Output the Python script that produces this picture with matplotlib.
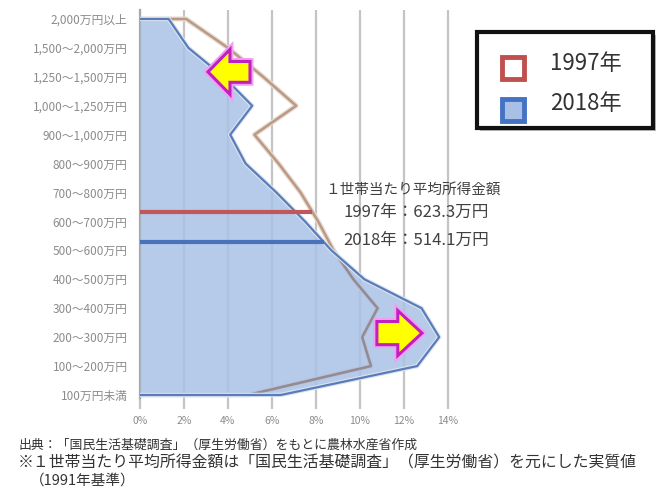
import numpy as np
import matplotlib
matplotlib.use("Agg")
import matplotlib.pyplot as plt
from matplotlib.patches import FancyArrow, Rectangle, Polygon
import matplotlib.patheffects as pe

plt.rcParams['font.family'] = ['Noto Sans CJK JP', 'DejaVu Sans']

# categories, bottom -> top
categories = ["100万円未満", "100～200万円", "200～300万円", "300～400万円",
              "400～500万円", "500～600万円", "600～700万円", "700～800万円",
              "800～900万円", "900～1,000万円", "1,000～1,250万円",
              "1,250～1,500万円", "1,500～2,000万円", "2,000万円以上"]
share_1997 = [4.9, 10.5, 10.1, 10.8, 9.7, 8.8, 8.1, 7.3, 6.3, 5.2, 7.1, 5.6, 4.0, 2.1]
share_2018 = [6.4, 12.6, 13.6, 12.8, 10.2, 8.7, 7.5, 6.2, 4.8, 4.1, 5.1, 3.8, 2.2, 1.3]
xticks = [0, 2, 4, 6, 8, 10, 12, 14]
xtick_labels = ["0%", "2%", "4%", "6%", "8%", "10%", "12%", "14%"]
# positions of the average-income lines on the category axis
mean_pos = {"1997": 6.33, "2018": 5.29}
mean_text = ["１世帯当たり平均所得金額", "1997年：623.3万円", "2018年：514.1万円"]
footnotes = ["出典：「国民生活基礎調査」（厚生労働省）をもとに農林水産省作成",
             "※１世帯当たり平均所得金額は「国民生活基礎調査」（厚生労働省）を元にした実質値",
             "（1991年基準）"]

W, H = 664, 498
fig = plt.figure(figsize=(W / 100, H / 100), dpi=100)

def fx(px):
    return px / W

def fy(py):
    return 1 - py / H

ax = fig.add_axes([fx(140), fy(398), fx(455) - fx(140), fy(10) - fy(398)])
y = np.arange(len(categories))
v97 = np.array(share_1997)
v18 = np.array(share_2018)

ax.set_xlim(0, 14.32)
ax.set_ylim(-0.104, 13.31)

# grid
ax.set_xticks(xticks)
ax.set_xticklabels(xtick_labels, fontsize=7.5, color='#8c8c8c')
ax.grid(axis='x', color='#c4c4c4', lw=1.6, zorder=1)
ax.tick_params(axis='x', length=8, width=1.6, color='#c4c4c4', pad=5)
ax.set_yticks(y)
ax.set_yticklabels(categories, fontsize=8.5, color='#8c8c8c')
ax.tick_params(axis='y', length=0, pad=9)
for s in ['top', 'right', 'bottom']:
    ax.spines[s].set_visible(False)
ax.spines['left'].set_color('#a8a8a8')
ax.spines['left'].set_linewidth(1.6)

px97 = np.r_[0, v97, 0]
py97 = np.r_[0, y, y[-1]]
px18 = np.r_[0, v18, 0]
py18 = np.r_[0, y, y[-1]]

# 1997 outline (outside the 2018 area)
ax.plot(px97, py97, color='#b99a86', lw=1.8, zorder=2,
        path_effects=[pe.Stroke(linewidth=3.6, foreground='#eadbd0'), pe.Normal()])

# 2018 area
ax.fill_betweenx(y, 0, v18, color='#a9c1e6', alpha=0.85, lw=0, zorder=3)

# 1997 outline where it lies inside the 2018 area
clip = Polygon(np.column_stack([px18, py18]), closed=True, transform=ax.transData)
inner, = ax.plot(px97, py97, color='#958a90', lw=1.8, zorder=3.5)
inner.set_clip_path(clip)

ax.plot(px18, py18, color='#5a7cb8', lw=1.6, zorder=4,
        path_effects=[pe.Stroke(linewidth=3.2, foreground='#dbe4f2'), pe.Normal()])

# average lines
x97 = np.interp(mean_pos["1997"], y, v97)
x18 = np.interp(mean_pos["2018"], y, v18)
ax.plot([0, x97], [mean_pos["1997"]] * 2, color='#c0575a', lw=3, zorder=5, solid_capstyle='butt')
ax.plot([0, x18], [mean_pos["2018"]] * 2, color='#4a72b8', lw=3, zorder=5, solid_capstyle='butt')

# arrows
arrow_pe = [pe.Stroke(linewidth=5, foreground='#f0a0f0'), pe.Normal()]
a1 = FancyArrow(5.0, 11.17, -1.91, 0, width=0.72, head_width=1.55, head_length=1.0,
                length_includes_head=True, fc='#ffff00', ec='#c020c0', lw=2.2, zorder=6)
a1.set_path_effects(arrow_pe)
ax.add_patch(a1)
a2 = FancyArrow(10.77, 2.14, 2.05, 0, width=0.8, head_width=1.55, head_length=1.1,
                length_includes_head=True, fc='#ffff00', ec='#c020c0', lw=2.2, zorder=6)
a2.set_path_effects(arrow_pe)
ax.add_patch(a2)

# annotation text
fig.text(fx(325), fy(190), mean_text[0], fontsize=10.5, color='#404040', ha='left', va='center')
fig.text(fx(416), fy(212), mean_text[1], fontsize=12, color='#404040', ha='center', va='center')
fig.text(fx(416), fy(240), mean_text[2], fontsize=12, color='#404040', ha='center', va='center')

# legend
fig.patches.append(Rectangle((fx(480), fy(131)), fx(176), fy(0) - fy(96), transform=fig.transFigure,
                             fc='#bbbbbb', ec='none', zorder=1))
fig.patches.append(Rectangle((fx(477), fy(128)), fx(176), fy(0) - fy(96), transform=fig.transFigure,
                             fc='white', ec='#111111', lw=3, zorder=2))
fig.patches.append(Rectangle((fx(502), fy(79)), fx(22), fy(0) - fy(22), transform=fig.transFigure,
                             fc='white', ec='#c0504d', lw=3.5, zorder=3))
fig.patches.append(Rectangle((fx(502), fy(121)), fx(22), fy(0) - fy(22), transform=fig.transFigure,
                             fc='#a9c0e6', ec='#4472c4', lw=3.5, zorder=3))
fig.text(fx(550), fy(63), "1997年", fontsize=16, color='#333333', ha='left', va='center', zorder=4)
fig.text(fx(550), fy(104), "2018年", fontsize=16, color='#333333', ha='left', va='center', zorder=4)

# footnotes
fig.text(fx(18), fy(445), footnotes[0], fontsize=9.3, color='#333333', ha='left', va='center')
fig.text(fx(18), fy(463), footnotes[1], fontsize=11.4, color='#333333', ha='left', va='center')
fig.text(fx(30), fy(481), footnotes[2], fontsize=10.5, color='#333333', ha='left', va='center')

fig.savefig("out.png", dpi=100)
